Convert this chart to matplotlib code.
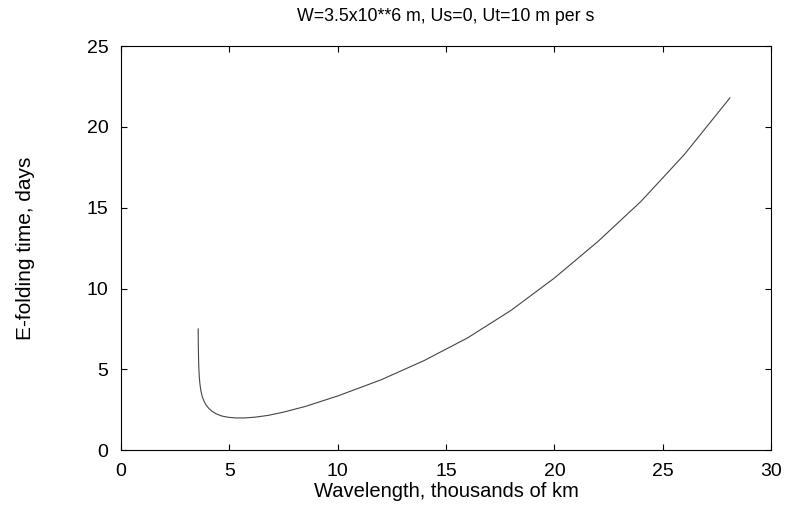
import numpy as np
import matplotlib as mpl
mpl.use('Agg')
import matplotlib.pyplot as plt

plt.rcParams['font.family'] = ['Liberation Sans', 'DejaVu Sans']

# wavelength (thousands of km) vs e-folding time (days)
wavelength = [3.56, 3.565, 3.575, 3.59, 3.61, 3.64, 3.68, 3.74, 3.82, 3.92,
              4.05, 4.2, 4.4, 4.65, 4.95, 5.3, 5.7, 6.2, 6.8, 7.5, 8.5,
              10, 12, 14, 16, 18, 20, 22, 24, 26, 28.1]
efold = [7.5, 6.6, 5.8, 5.1, 4.55, 4.1, 3.7, 3.35, 3.05, 2.8,
         2.58, 2.4, 2.24, 2.11, 2.03, 1.99, 1.99, 2.04, 2.15, 2.35, 2.7,
         3.35, 4.35, 5.55, 6.95, 8.65, 10.65, 12.9, 15.4, 18.3, 21.8]

fig = plt.figure(figsize=(7.86, 5.08), dpi=100)
ax = fig.add_axes([0.154, 0.114, 0.827, 0.795])
ax.plot(wavelength, efold, color='#444444', lw=0.8)
ax.set_xlim(0, 30)
ax.set_ylim(0, 25)
ax.set_xticks([0, 5, 10, 15, 20, 25, 30])
ax.set_yticks([0, 5, 10, 15, 20, 25])
ax.tick_params(direction='in', top=True, right=True, labelsize=14, length=4, pad=9)
ax.set_xlabel('Wavelength, thousands of km', fontsize=14.5, labelpad=2)
ax.set_ylabel('E-folding time, days', fontsize=15, labelpad=37)
ax.set_title('W=3.5x10**6 m, Us=0, Ut=10 m per s', fontsize=12.8, pad=18)
fig.savefig('out.png', dpi=100)
